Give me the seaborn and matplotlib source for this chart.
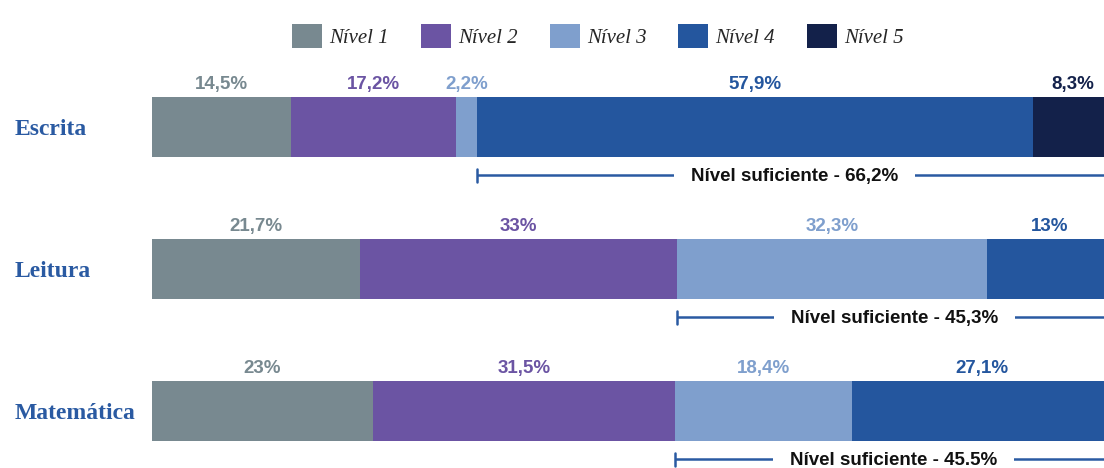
import matplotlib.pyplot as plt
import matplotlib.transforms as mtransforms
from matplotlib.patches import Patch
import pandas as pd
import seaborn as sns

# Dados (percentual por nível)
categorias = ['Escrita', 'Leitura', 'Matemática']
niveis = ['Nível 1', 'Nível 2', 'Nível 3', 'Nível 4', 'Nível 5']
nivel_1 = [14.5, 21.7, 23.0]
nivel_2 = [17.2, 33.0, 31.5]
nivel_3 = [2.2, 32.3, 18.4]
nivel_4 = [57.9, 13.0, 27.1]
nivel_5 = [8.3, 0.0, 0.0]
# nível a partir do qual conta como "suficiente" (índice 0-based)
inicio_suficiente = [3, 2, 2]
textos_suficiente = ['Nível suficiente - 66,2%',
                     'Nível suficiente - 45,3%',
                     'Nível suficiente - 45.5%']

cores = ['#788990', '#6b54a3', '#7f9fcd', '#24569e', '#13214a']
cor_linha = '#2a5aa2'

valores = [nivel_1, nivel_2, nivel_3, nivel_4, nivel_5]

sns.set_theme(style='white')
plt.rcParams['font.family'] = ['Liberation Sans', 'DejaVu Sans']

W, H = 1104, 468
fig = plt.figure(figsize=(W / 100, H / 100), dpi=100)
ax = fig.add_axes([152 / W, 0, (W - 152) / W, 1])

largura = 60 / 142

# barras empilhadas: desenha os acumulados do maior para o menor
df = pd.DataFrame({'categoria': categorias})
acum = [0.0] * len(categorias)
acumulados = []
for v in valores:
    acum = [a + b for a, b in zip(acum, v)]
    acumulados.append(list(acum))
for k in range(len(niveis) - 1, -1, -1):
    df['acum'] = acumulados[k]
    sns.barplot(data=df, x='acum', y='categoria', orient='h', color=cores[k],
                width=largura, saturation=1, linewidth=0, ax=ax, zorder=2)

ax.set_xlim(0, (W - 152) / 9.6)
ax.set_ylim((H - 127) / 142, -127 / 142)
ax.axis('off')


def fmt(v):
    s = f'{v:.1f}'.replace('.', ',')
    return s[:-2] + '%' if s.endswith(',0') else s + '%'


# rótulos de percentual acima de cada segmento
for i in range(len(categorias)):
    base = 0.0
    for k, v in enumerate(valores):
        if v[i] > 0:
            ax.text(base + v[i] / 2, i - largura / 2 - 0.025, fmt(v[i]),
                    ha='center', va='bottom', fontsize=13.5, fontweight='bold',
                    color=cores[k])
        base += v[i]

# nomes das categorias
trans = mtransforms.blended_transform_factory(fig.transFigure, ax.transData)
for i, c in enumerate(categorias):
    ax.text(15 / W, i + 0.02, c, transform=trans, ha='left', va='center',
            fontsize=17, fontweight='bold', color='#2a5aa2',
            family=['Liberation Serif', 'DejaVu Serif'])

# colchetes de "nível suficiente"
for i in range(len(categorias)):
    ini = sum(valores[k][i] for k in range(inicio_suficiente[i]))
    y = i + largura / 2 + 0.128
    ax.plot([ini, 101], [y, y], color=cor_linha, lw=1.8, zorder=0.3,
            solid_capstyle='butt')
    ax.plot([ini, ini], [y - 0.045, y + 0.045], color=cor_linha, lw=1.8,
            zorder=0.3)
    ax.text((ini + 100) / 2, y + 0.01, textos_suficiente[i], ha='center',
            va='center', fontsize=13.5, fontweight='bold', color='#111111',
            zorder=0.5,
            bbox=dict(boxstyle='square,pad=0.9', facecolor='white',
                      edgecolor='none'))

# legenda
handles = [Patch(facecolor=c, edgecolor='none', label=n)
           for c, n in zip(cores, niveis)]
fig.legend(handles=handles, loc='center', bbox_to_anchor=(598 / W, 1 - 36 / H),
           ncol=5, frameon=False, handlelength=1.44, handleheight=1.44,
           handletextpad=0.34, columnspacing=1.54, borderpad=0,
           prop={'family': ['Liberation Serif', 'DejaVu Serif'],
                 'style': 'italic', 'size': 15})

fig.savefig('out.png', dpi=100)
